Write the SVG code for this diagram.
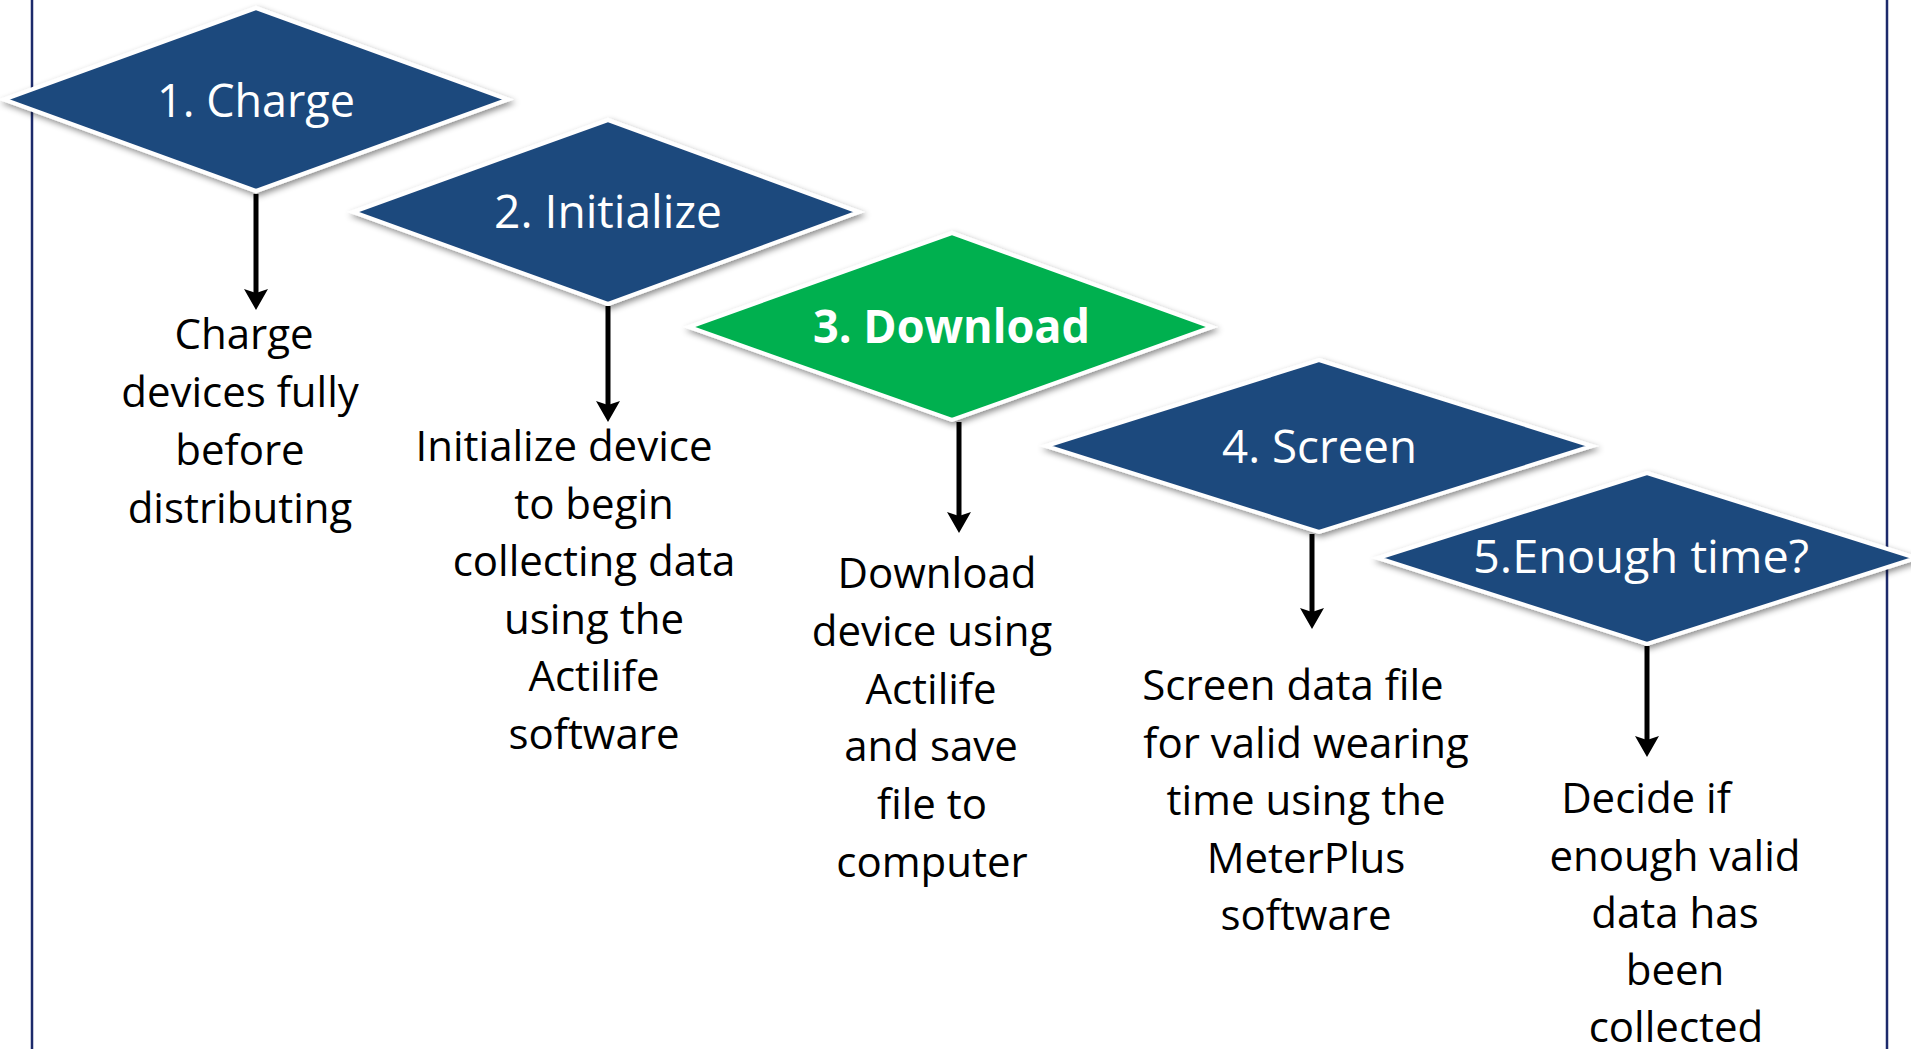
<svg xmlns="http://www.w3.org/2000/svg" width="1911" height="1049" viewBox="0 0 1911 1049">
<defs>
<style>
.dia{stroke:#ffffff;stroke-width:4;stroke-linejoin:miter;filter:url(#sh)}
.blue{fill:#1F497D}
.green{fill:#00B050}
.lbl{fill:#ffffff;font-family:"Open Sans","Noto Sans","Liberation Sans",sans-serif;font-size:46px;text-anchor:middle}
.bold{font-weight:bold}
.desc{fill:#000000;font-family:"Open Sans","Noto Sans","Liberation Sans",sans-serif;font-size:42px;text-anchor:middle}
.edge{stroke:#000000;stroke-width:5;fill:none;marker-end:url(#ah)}
.frame{stroke:#1C2A6B;stroke-width:2.5}
</style>
<filter id="sh" x="-10%" y="-15%" width="125%" height="140%">
<feDropShadow dx="2" dy="3" stdDeviation="3" flood-color="#000000" flood-opacity="0.45"/>
</filter>
<marker id="ah" markerUnits="userSpaceOnUse" markerWidth="40" markerHeight="40" refX="0" refY="0" orient="auto" overflow="visible">
<path d="M13,0 L-8,-12 L-4,0 L-8,12 Z" fill="#000000"/>
</marker>
</defs>
<rect x="0" y="0" width="1911" height="1049" fill="#ffffff"/>
<g id="frame">
<line class="frame" x1="32" y1="0" x2="32" y2="1049"/>
<line class="frame" x1="1887" y1="0" x2="1887" y2="1049"/>
</g>
<g id="node1">
<polygon class="dia blue" points="256,8 508,99.5 256,191 4,99.5"/>
<text class="lbl" x="256" y="117" textLength="198" lengthAdjust="spacingAndGlyphs">1. Charge</text>
</g>
<g id="node2">
<polygon class="dia blue" points="608,120 859,212 608,304 353,212"/>
<text class="lbl" x="608" y="228" textLength="228" lengthAdjust="spacingAndGlyphs">2. Initialize</text>
</g>
<g id="node3">
<polygon class="dia green" points="952,233 1212,327 952,420 689,327"/>
<text class="lbl bold" x="951.5" y="343" textLength="277" lengthAdjust="spacingAndGlyphs">3. Download</text>
</g>
<g id="node4">
<polygon class="dia blue" points="1319,360 1592,446 1319,532 1046,446"/>
<text class="lbl" x="1319.5" y="463" textLength="195" lengthAdjust="spacingAndGlyphs">4. Screen</text>
</g>
<g id="node5">
<polygon class="dia blue" points="1647,473 1916,558 1647,644 1378,558"/>
<text class="lbl" x="1641" y="573" textLength="336" lengthAdjust="spacingAndGlyphs">5.Enough time?</text>
</g>
<g id="connectors">
<line class="edge" x1="256" y1="194" x2="256" y2="297"/>
<line class="edge" x1="608" y1="306" x2="608" y2="409"/>
<line class="edge" x1="959" y1="422" x2="959" y2="520"/>
<line class="edge" x1="1312" y1="534" x2="1312" y2="616"/>
<line class="edge" x1="1647" y1="646" x2="1647" y2="744"/>
</g>
<g id="text1">
<text class="desc" x="244" y="349">Charge</text>
<text class="desc" x="240" y="407">devices fully</text>
<text class="desc" x="240" y="465">before</text>
<text class="desc" x="240" y="523">distributing</text>
</g>
<g id="text2">
<text class="desc" x="564" y="461">Initialize device</text>
<text class="desc" x="594" y="518.5">to begin</text>
<text class="desc" x="594" y="576">collecting data</text>
<text class="desc" x="594" y="633.5">using the</text>
<text class="desc" x="594" y="691">Actilife</text>
<text class="desc" x="594" y="748.5">software</text>
</g>
<g id="text3">
<text class="desc" x="937" y="588">Download</text>
<text class="desc" x="932" y="646">device using</text>
<text class="desc" x="931" y="704">Actilife</text>
<text class="desc" x="931" y="761">and save</text>
<text class="desc" x="932" y="819">file to</text>
<text class="desc" x="932" y="877">computer</text>
</g>
<g id="text4">
<text class="desc" x="1293" y="700">Screen data file</text>
<text class="desc" x="1306" y="757.5">for valid wearing</text>
<text class="desc" x="1306" y="815">time using the</text>
<text class="desc" x="1306" y="872.5">MeterPlus</text>
<text class="desc" x="1306" y="930">software</text>
</g>
<g id="text5">
<text class="desc" x="1646" y="813">Decide if</text>
<text class="desc" x="1675" y="871">enough valid</text>
<text class="desc" x="1675" y="928">data has</text>
<text class="desc" x="1675" y="985">been</text>
<text class="desc" x="1676" y="1042">collected</text>
</g>
</svg>
